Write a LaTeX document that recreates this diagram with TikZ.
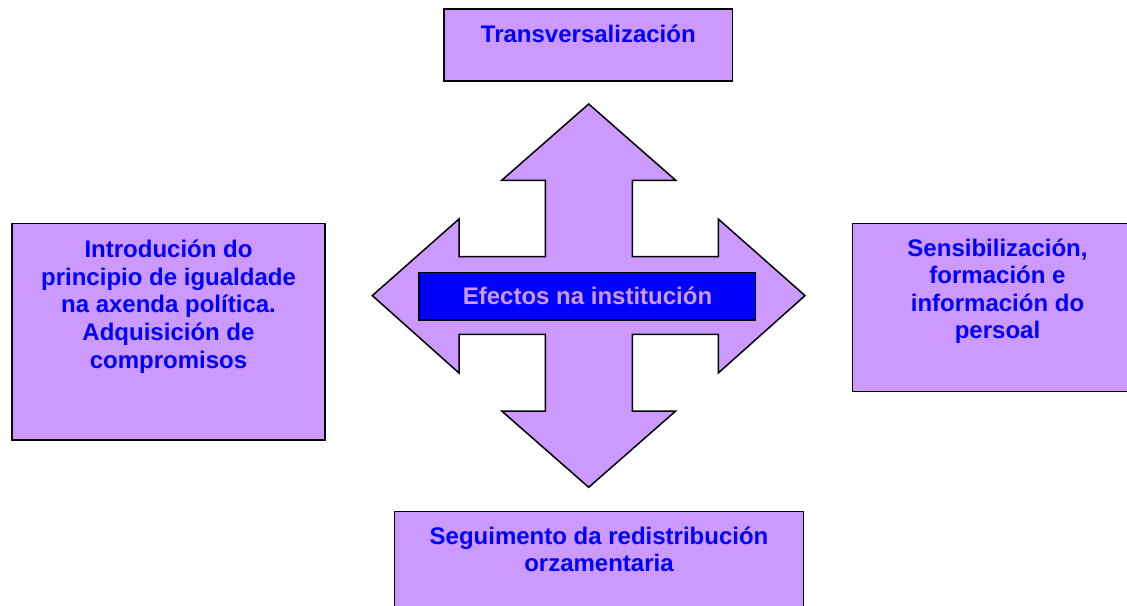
\documentclass[tikz,border=0pt]{standalone}
\usepackage{fontspec}
\setmainfont{Liberation Sans}
\definecolor{lilac}{HTML}{CC99FF}
\definecolor{txtblue}{HTML}{0000FF}
\newcommand\firstln{\rule{0pt}{23pt}}
\begin{document}
\begin{tikzpicture}[x=1pt,y=-1pt,
  box/.style={draw=black,line width=1.5pt,fill=lilac,rectangle,inner sep=0pt},
  txt/.style={text=txtblue,font=\fontsize{24}{27.6}\selectfont\bfseries,align=center,inner sep=0pt,anchor=north}]
\useasboundingbox (0,0) rectangle (1127,605);
\clip (0,0) rectangle (1127,605);
% boxes
\node[box,minimum width=288.7pt,minimum height=72pt] (top) at (588.35,45) {};
\node[box,minimum width=313pt,minimum height=216.7pt] (left) at (168.5,331.65) {};
\node[box,minimum width=290.4pt,minimum height=168.4pt] (right) at (997.5,307.5) {};
\node[box,minimum width=408.6pt,minimum height=100pt] (bottom) at (599,561.7) {};
% texts
\node[txt] (toptxt) at ([yshift=-11pt]top.north) {\firstln Transversalización};
\node[txt] (lefttxt) at ([yshift=-12pt]left.north) {\firstln Introdución do\\principio de igualdade\\na axenda política.\\Adquisición de\\compromisos};
\node[txt] (righttxt) at ([yshift=-10.4pt]right.north) {\firstln Sensibilización,\\formación e\\información do\\persoal};
\node[txt] (bottomtxt) at ([yshift=-10pt]bottom.north) {\firstln Seguimento da redistribución\\orzamentaria};
% four-way arrow
\draw[line width=1.5pt,fill=lilac,line join=miter]
 (588.7,104) -- (675.7,180.3) -- (632.3,180.3) -- (632.3,256.7) -- (718.3,256.7)
 -- (718.3,219) -- (805,295.6) -- (718.3,373) -- (718.3,334.3) -- (632.3,334.3)
 -- (632.3,411) -- (675.7,411) -- (588.7,487.3) -- (501.7,411) -- (545.3,411)
 -- (545.3,334.3) -- (459,334.3) -- (459,373) -- (372.3,295.6) -- (459,219)
 -- (459,256.7) -- (545.3,256.7) -- (545.3,180.3) -- (501.7,180.3) -- cycle;
% centre label
\node[box,fill=txtblue,minimum width=336.7pt,minimum height=47.7pt] (centre) at (587.35,296.15) {};
\node[text=lilac,font=\fontsize{24}{27.6}\selectfont\bfseries,inner sep=0pt,anchor=base] (centretxt) at (587.5,304.3) {Efectos na institución};
\end{tikzpicture}
\end{document}
